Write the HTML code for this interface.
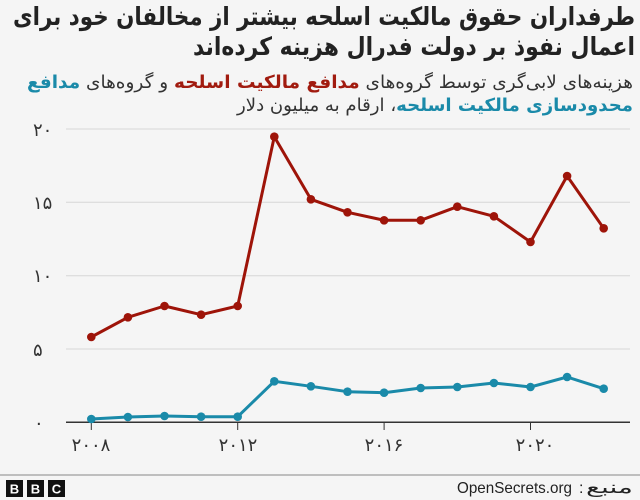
<!DOCTYPE html>
<html><head><meta charset="utf-8">
<style>
html,body{margin:0;padding:0;background:#f5f5f5;}
body{width:640px;height:500px;overflow:hidden;position:relative;}
svg{position:absolute;left:0;top:0;}
</style></head>
<body>
<svg width="640" height="500" viewBox="0 0 640 500" xmlns="http://www.w3.org/2000/svg">
<rect x="0" y="0" width="640" height="500" fill="#f5f5f5"/>
<g font-family="'DejaVu Sans', sans-serif" fill="#222">
<text x="635" y="25" direction="rtl" text-anchor="start" font-size="25" font-weight="bold" textLength="622" lengthAdjust="spacingAndGlyphs">طرفداران حقوق مالکیت اسلحه بیشتر از مخالفان خود برای</text>
<text x="635" y="55" direction="rtl" text-anchor="start" font-size="25" font-weight="bold" textLength="442" lengthAdjust="spacingAndGlyphs">اعمال نفوذ بر دولت فدرال هزینه کرده‌اند</text>
<text x="633" y="88" direction="rtl" text-anchor="start" font-size="18" fill="#333" textLength="606" lengthAdjust="spacingAndGlyphs">هزینه‌های لابی‌گری توسط گروه‌های <tspan fill="#a11b0f" font-weight="bold">مدافع مالکیت اسلحه</tspan> و گروه‌های <tspan fill="#1a8aa9" font-weight="bold">مدافع</tspan></text>
<text x="633" y="111" direction="rtl" text-anchor="start" font-size="18" fill="#333" textLength="396" lengthAdjust="spacingAndGlyphs"><tspan fill="#1a8aa9" font-weight="bold">محدودسازی مالکیت اسلحه</tspan>، ارقام به میلیون دلار</text>
</g>
<!-- grid -->
<g stroke="#d6d6d6" stroke-width="1">
<line x1="66" y1="129" x2="630" y2="129"/>
<line x1="66" y1="202.3" x2="630" y2="202.3"/>
<line x1="66" y1="275.7" x2="630" y2="275.7"/>
<line x1="66" y1="349" x2="630" y2="349"/>
</g>
<line x1="66" y1="422.3" x2="630" y2="422.3" stroke="#333" stroke-width="1.5"/>
<g stroke="#333" stroke-width="1">
<line x1="91.3" y1="422" x2="91.3" y2="430"/>
<line x1="237.7" y1="422" x2="237.7" y2="430"/>
<line x1="384.1" y1="422" x2="384.1" y2="430"/>
<line x1="530.5" y1="422" x2="530.5" y2="430"/>
</g>
<g font-family="'DejaVu Sans', sans-serif" font-size="18" fill="#333">
<text x="33" y="136">۲۰</text>
<text x="33" y="209">۱۵</text>
<text x="33" y="282">۱۰</text>
<text x="33" y="356">۵</text>
<text x="34" y="429">۰</text>
<text x="91" y="451" text-anchor="middle">۲۰۰۸</text>
<text x="238" y="451" text-anchor="middle">۲۰۱۲</text>
<text x="384" y="451" text-anchor="middle">۲۰۱۶</text>
<text x="535" y="451" text-anchor="middle">۲۰۲۰</text>
</g>
<!-- red series -->
<polyline fill="none" stroke="#9e1409" stroke-width="3" stroke-linejoin="round" points="91.3,337 127.9,317.3 164.5,306 201.1,314.7 237.7,306 274.3,136.7 310.9,199.3 347.5,212.3 384.1,220.3 420.7,220.3 457.3,206.7 493.9,216.3 530.5,242 567.1,176 603.7,228.3"/>
<g fill="#9e1409">
<circle cx="91.3" cy="337" r="4.3"/><circle cx="127.9" cy="317.3" r="4.3"/><circle cx="164.5" cy="306" r="4.3"/><circle cx="201.1" cy="314.7" r="4.3"/><circle cx="237.7" cy="306" r="4.3"/><circle cx="274.3" cy="136.7" r="4.3"/><circle cx="310.9" cy="199.3" r="4.3"/><circle cx="347.5" cy="212.3" r="4.3"/><circle cx="384.1" cy="220.3" r="4.3"/><circle cx="420.7" cy="220.3" r="4.3"/><circle cx="457.3" cy="206.7" r="4.3"/><circle cx="493.9" cy="216.3" r="4.3"/><circle cx="530.5" cy="242" r="4.3"/><circle cx="567.1" cy="176" r="4.3"/><circle cx="603.7" cy="228.3" r="4.3"/>
</g>
<!-- teal series -->
<polyline fill="none" stroke="#1a8aa9" stroke-width="3" stroke-linejoin="round" points="91.3,419 127.9,417 164.5,416 201.1,416.7 237.7,416.7 274.3,381.3 310.9,386.3 347.5,391.7 384.1,392.7 420.7,388 457.3,387 493.9,383 530.5,387 567.1,377 603.7,388.7"/>
<g fill="#1a8aa9">
<circle cx="91.3" cy="419" r="4.3"/><circle cx="127.9" cy="417" r="4.3"/><circle cx="164.5" cy="416" r="4.3"/><circle cx="201.1" cy="416.7" r="4.3"/><circle cx="237.7" cy="416.7" r="4.3"/><circle cx="274.3" cy="381.3" r="4.3"/><circle cx="310.9" cy="386.3" r="4.3"/><circle cx="347.5" cy="391.7" r="4.3"/><circle cx="384.1" cy="392.7" r="4.3"/><circle cx="420.7" cy="388" r="4.3"/><circle cx="457.3" cy="387" r="4.3"/><circle cx="493.9" cy="383" r="4.3"/><circle cx="530.5" cy="387" r="4.3"/><circle cx="567.1" cy="377" r="4.3"/><circle cx="603.7" cy="388.7" r="4.3"/>
</g>
<!-- footer -->
<line x1="0" y1="475" x2="640" y2="475" stroke="#888" stroke-width="1"/>
<g>
<rect x="6" y="480" width="17" height="17" fill="#111"/>
<rect x="27" y="480" width="17" height="17" fill="#111"/>
<rect x="48" y="480" width="17" height="17" fill="#111"/>
<g font-family="'Liberation Sans', sans-serif" font-weight="bold" font-size="13" fill="#fff" text-anchor="middle">
<text x="14.5" y="493.5">B</text>
<text x="35.5" y="493.5">B</text>
<text x="56.5" y="493.5">C</text>
</g>
</g>
<text x="457" y="493" font-family="'Liberation Sans', sans-serif" font-size="16" fill="#222" textLength="115" lengthAdjust="spacingAndGlyphs">OpenSecrets.org</text>
<text x="579" y="493" font-family="'Liberation Sans', sans-serif" font-size="16" fill="#222">:</text>
<text x="633" y="493" font-family="'DejaVu Sans', sans-serif" font-size="17" fill="#222" direction="rtl" text-anchor="start" textLength="47" lengthAdjust="spacingAndGlyphs">منبع</text>
</svg>
</body></html>
